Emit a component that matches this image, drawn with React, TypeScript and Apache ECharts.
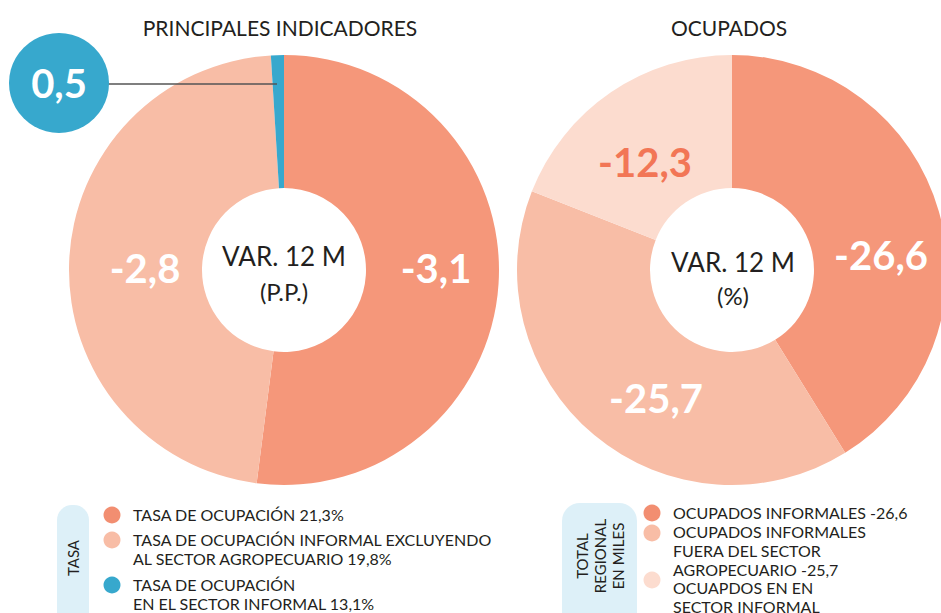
import React, { useEffect, useRef } from "react";
import * as echarts from "echarts";

const FONT = "Lato, 'Noto Sans', sans-serif";

const titles = ["PRINCIPALES INDICADORES", "OCUPADOS"];
const centerLines = [["VAR. 12 M", "(P.P.)"], ["VAR. 12 M", "(%)"]];

const leftNames = [
  "TASA DE OCUPACIÓN 21,3%",
  "TASA DE OCUPACIÓN INFORMAL EXCLUYENDO\nAL SECTOR AGROPECUARIO 19,8%",
  "TASA DE OCUPACIÓN\nEN EL SECTOR INFORMAL 13,1%",
];
// share of the ring each slice takes, as drawn
const leftShares = [3.1, 2.8, 0.058];
const leftLabels = ["-3,1", "-2,8", "0,5"];
const leftColors = ["#F5977A", "#F8BDA6", "#37A8CD"];

const rightNames = [
  "OCUPADOS INFORMALES -26,6",
  "OCUPADOS INFORMALES\nFUERA DEL SECTOR\nAGROPECUARIO -25,7",
  "OCUAPDOS EN EN\nSECTOR INFORMAL",
];
const rightValues = [26.6, 25.7, 12.3];
const rightLabels = ["-26,6", "-25,7", "-12,3"];
const rightColors = ["#F5977A", "#F8BDA6", "#FCDCCF"];
const rightLabelColors = ["#ffffff", "#ffffff", "#F27656"];

const legendTitles = ["TASA", "TOTAL\nREGIONAL\nEN MILES"];

export default function App() {
  const ref = useRef<HTMLDivElement>(null);
  useEffect(() => {
    if (!ref.current) return;
    const chart = echarts.init(ref.current, undefined, { renderer: "svg" });
    const txt = (x: number, y: number, text: string, size: number, opts: any = {}) => ({
      type: "text",
      x,
      y,
      style: {
        text,
        fontSize: size,
        fontFamily: FONT,
        fill: opts.fill || "#231f20",
        fontWeight: opts.weight || "normal",
        align: opts.align || "center",
        verticalAlign: opts.va || "middle",
        lineHeight: opts.lh,
      },
      rotation: opts.rotation || 0,
      z: 10,
    });

    const leftLabelPos = [
      [436, 268],
      [145, 268],
    ];
    const rightLabelPos = [
      [881, 255],
      [656, 398],
      [645, 162],
    ];

    const graphics: any[] = [];
    graphics.push(txt(280, 27, titles[0], 21));
    graphics.push(txt(729, 27, titles[1], 21));
    graphics.push(txt(284, 256, centerLines[0][0], 26));
    graphics.push(txt(284, 291, centerLines[0][1], 24));
    graphics.push(txt(733, 262, centerLines[1][0], 26));
    graphics.push(txt(733, 295, centerLines[1][1], 24));
    leftLabelPos.forEach((p, i) =>
      graphics.push(txt(p[0], p[1], leftLabels[i], 40, { fill: "#fff", weight: "bold" }))
    );
    rightLabelPos.forEach((p, i) =>
      graphics.push(
        txt(p[0], p[1], rightLabels[i], 40, { fill: rightLabelColors[i], weight: "bold" })
      )
    );
    // blue callout
    graphics.push({
      type: "line",
      shape: { x1: 108, y1: 84, x2: 277, y2: 84 },
      style: { stroke: "#555", lineWidth: 1.5 },
      z: 9,
    });
    graphics.push({
      type: "circle",
      shape: { cx: 59, cy: 83, r: 50 },
      style: { fill: leftColors[2] },
      z: 9,
    });
    graphics.push(txt(59, 83, leftLabels[2], 40, { fill: "#fff", weight: "bold" }));

    // legend boxes
    graphics.push({
      type: "rect",
      shape: { x: 57, y: 505, width: 32, height: 130, r: 15 },
      style: { fill: "#DDF0F8" },
    });
    graphics.push(txt(73, 558, legendTitles[0], 15, { rotation: Math.PI / 2 }));
    graphics.push({
      type: "rect",
      shape: { x: 562, y: 503, width: 75, height: 130, r: 18 },
      style: { fill: "#DDF0F8" },
    });
    graphics.push(
      txt(600, 556, legendTitles[1], 15, { rotation: Math.PI / 2, lh: 18 })
    );

    // left legend items
    const leftY = [515, 540, 585];
    const leftTextY = [515, 540, 585];
    leftNames.forEach((n, i) => {
      graphics.push({
        type: "circle",
        shape: { cx: 112, cy: leftY[i], r: 8.5 },
        style: { fill: i === 0 ? "#F28E71" : leftColors[i] },
      });
      graphics.push(
        txt(133, leftTextY[i] - 9.5, n, 16, { align: "left", va: "top", lh: 18.5 })
      );
    });
    const rightY = [513, 533, 580];
    const rightTextY = [513, 532, 588];
    rightNames.forEach((n, i) => {
      graphics.push({
        type: "circle",
        shape: { cx: 652, cy: rightY[i], r: 8.5 },
        style: { fill: i === 0 ? "#F28E71" : rightColors[i] },
      });
      graphics.push(
        txt(673, rightTextY[i] - 9.5, n, 16, { align: "left", va: "top", lh: 18.8 })
      );
    });

    chart.setOption({
      animation: false,
      backgroundColor: "#fff",
      series: [
        {
          type: "pie",
          center: [284, 270],
          radius: [82, 215],
          startAngle: 90,
          clockwise: true,
          silent: true,
          label: { show: false },
          labelLine: { show: false },
          data: leftShares.map((v, i) => ({
            value: v,
            name: leftNames[i],
            itemStyle: { color: leftColors[i] },
          })),
        },
        {
          type: "pie",
          center: [732, 270],
          radius: [82, 215],
          startAngle: 90,
          clockwise: true,
          silent: true,
          label: { show: false },
          labelLine: { show: false },
          data: rightValues.map((v, i) => ({
            value: v,
            name: rightNames[i],
            itemStyle: { color: rightColors[i] },
          })),
        },
      ],
      graphic: graphics,
    });
    return () => chart.dispose();
  }, []);
  return (
    <div
      ref={ref}
      style={{ position: "fixed", left: 0, top: 0, width: 941, height: 613 }}
    />
  );
}
